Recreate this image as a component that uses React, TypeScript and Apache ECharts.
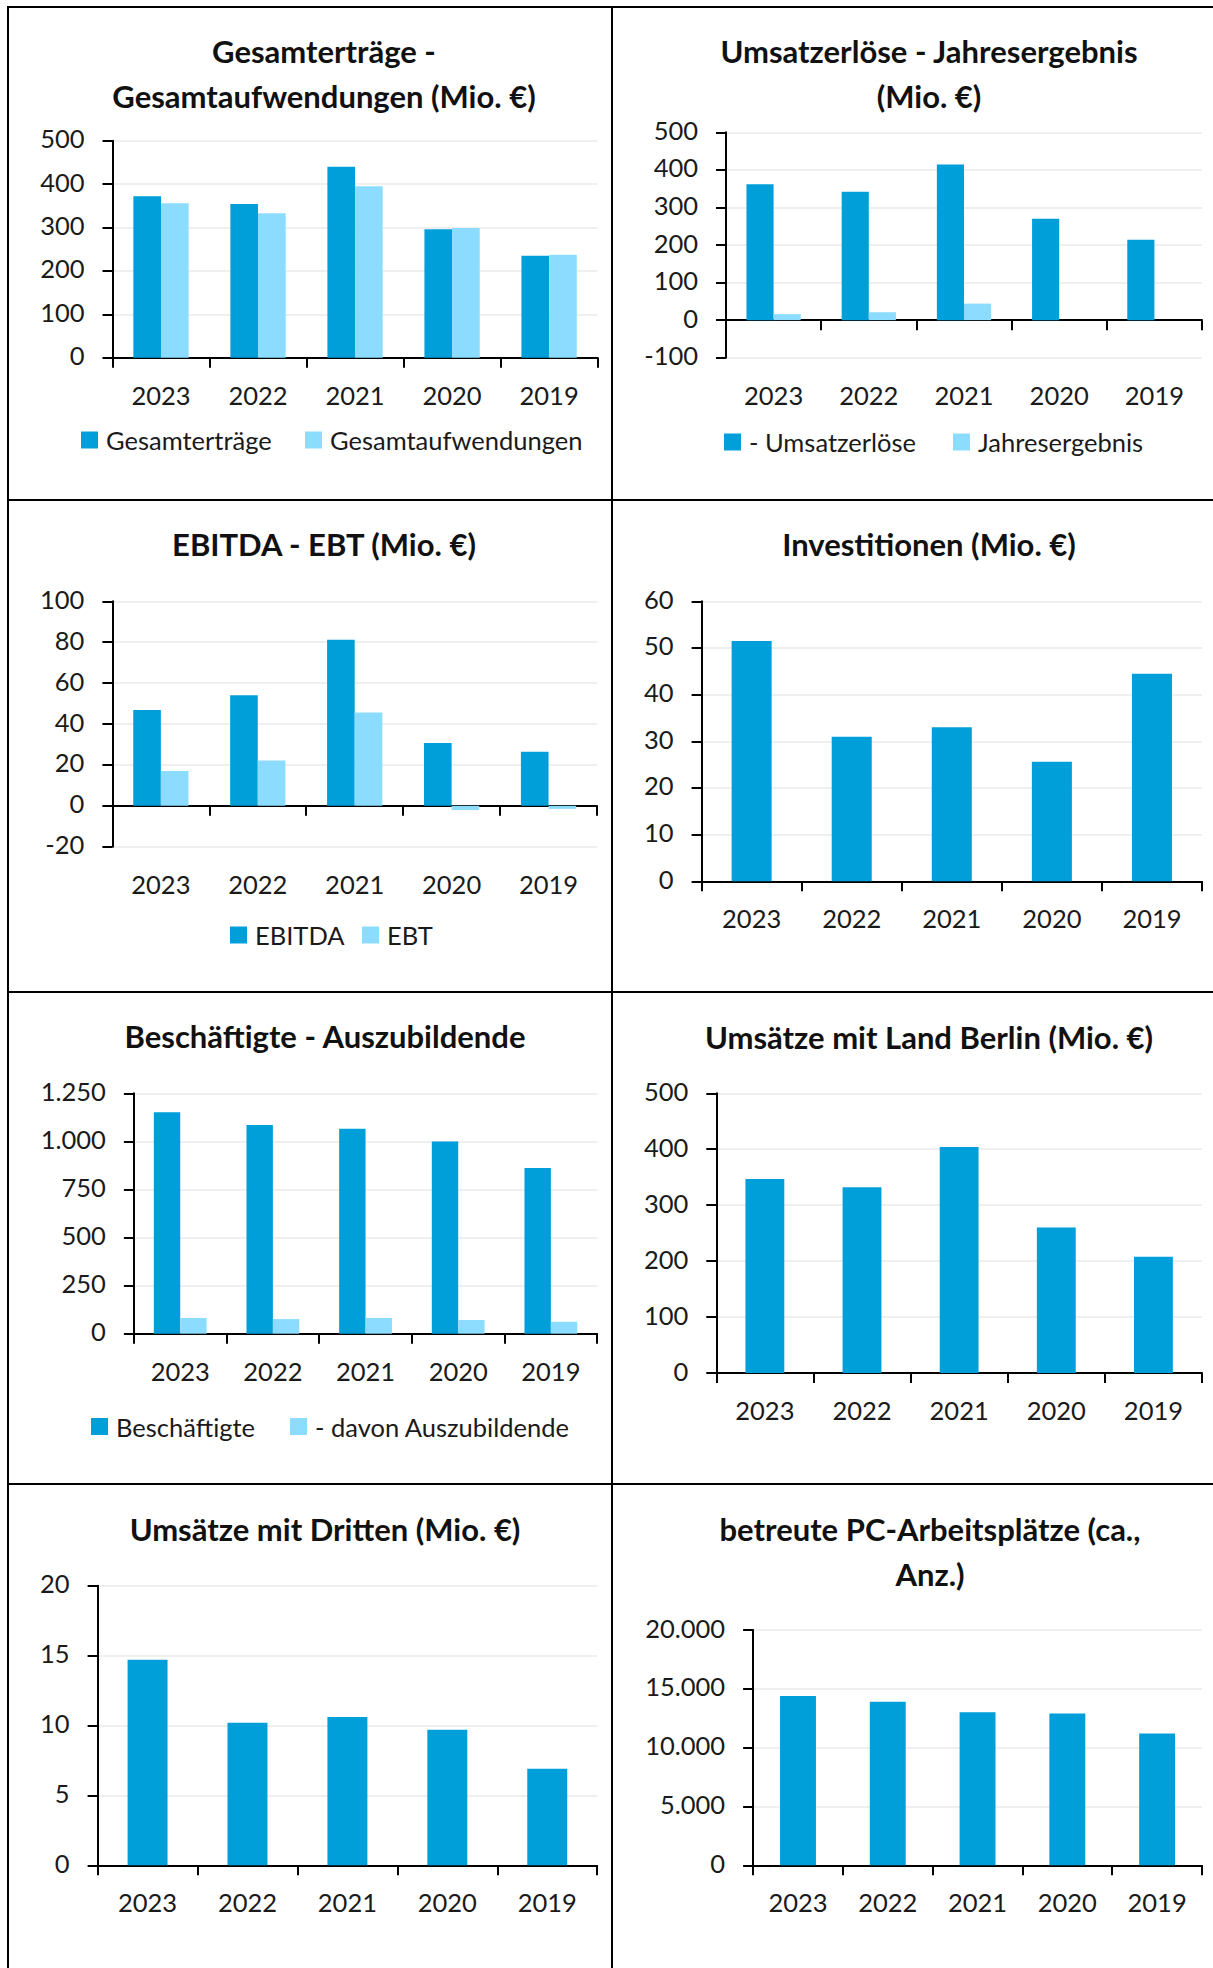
import React, { useEffect, useRef } from "react";
import * as echarts from "echarts";

// ---------- data ----------
const years = ["2023", "2022", "2021", "2020", "2019"];

const gesamtertraege = [372, 354, 440, 296, 235];
const gesamtaufwendungen = [356, 333, 395, 299, 237];

const umsatzerloese = [362, 342, 414, 270, 214];
const jahresergebnis = [16, 21, 44, 0, 0];

const ebitda = [46.8, 54.1, 81.2, 30.7, 26.4];
const ebt = [17, 22.2, 45.6, -2.1, -1.5];

const investitionen = [51.5, 31.0, 33.0, 25.6, 44.5];

const beschaeftigte = [1151, 1085, 1066, 1000, 862];
const auszubildende = [82, 76, 82, 71, 62];

const umsaetzeBerlin = [347, 332, 404, 260, 208];

const umsaetzeDritte = [14.7, 10.2, 10.6, 9.7, 6.9];

const pcArbeitsplaetze = [14400, 13900, 13000, 12900, 11200];

const titles = [
  ["Gesamterträge -", "Gesamtaufwendungen (Mio. €)"],
  ["Umsatzerlöse - Jahresergebnis", "(Mio. €)"],
  ["EBITDA - EBT (Mio. €)"],
  ["Investitionen (Mio. €)"],
  ["Beschäftigte - Auszubildende"],
  ["Umsätze mit Land Berlin (Mio. €)"],
  ["Umsätze mit Dritten (Mio. €)"],
  ["betreute PC-Arbeitsplätze (ca.,", "Anz.)"],
];

// ---------- styling ----------
const DARK = "#009fda";
const LIGHT = "#8bdcfe";
const FONT = "Lato, 'Open Sans', sans-serif";
const TXT = "#1a1a1a";
const LABEL_SIZE = 25.5;
const TITLE_SIZE = 31;

function fmtDE(v: number) {
  return String(v).replace(/\B(?=(\d{3})+(?!\d))/g, ".");
}

type S = { name: string; data: number[]; color: string };
type Panel = {
  left: number; right: number; top: number; bottom: number;
  min: number; max: number; interval: number;
  series: S[];
  legendX?: number[]; legendY?: number;
  titleX: number; titleY: number[];
};

const panels: Panel[] = [
  {
    left: 112.5, right: 597.6, top: 140.7, bottom: 357.7, min: 0, max: 500, interval: 100,
    series: [
      { name: "Gesamterträge", data: gesamtertraege, color: DARK },
      { name: "Gesamtaufwendungen", data: gesamtaufwendungen, color: LIGHT },
    ],
    legendX: [81, 305], legendY: 439, titleX: 324, titleY: [51, 96],
  },
  {
    left: 726, right: 1202, top: 132.3, bottom: 357.7, min: -100, max: 500, interval: 100,
    series: [
      { name: "- Umsatzerlöse", data: umsatzerloese, color: DARK },
      { name: "Jahresergebnis", data: jahresergebnis, color: LIGHT },
    ],
    legendX: [724, 953], legendY: 441, titleX: 929, titleY: [51, 96],
  },
  {
    left: 112.4, right: 597, top: 601.3, bottom: 846.7, min: -20, max: 100, interval: 20,
    series: [
      { name: "EBITDA", data: ebitda, color: DARK },
      { name: "EBT", data: ebt, color: LIGHT },
    ],
    legendX: [230, 362], legendY: 934, titleX: 324, titleY: [544],
  },
  {
    left: 701.6, right: 1202, top: 601.3, bottom: 881.3, min: 0, max: 60, interval: 10,
    series: [{ name: "Investitionen", data: investitionen, color: DARK }],
    titleX: 929, titleY: [544],
  },
  {
    left: 133.9, right: 597.2, top: 1093.3, bottom: 1333.7, min: 0, max: 1250, interval: 250,
    series: [
      { name: "Beschäftigte", data: beschaeftigte, color: DARK },
      { name: "- davon Auszubildende", data: auszubildende, color: LIGHT },
    ],
    legendX: [91, 290], legendY: 1425.5, titleX: 325, titleY: [1035.5],
  },
  {
    left: 716.3, right: 1202, top: 1093.3, bottom: 1373, min: 0, max: 500, interval: 100,
    series: [{ name: "Umsätze mit Land Berlin", data: umsaetzeBerlin, color: DARK }],
    titleX: 929, titleY: [1036.5],
  },
  {
    left: 97.6, right: 597.2, top: 1585.7, bottom: 1865.3, min: 0, max: 20, interval: 5,
    series: [{ name: "Umsätze mit Dritten", data: umsaetzeDritte, color: DARK }],
    titleX: 325, titleY: [1528.5],
  },
  {
    left: 753.1, right: 1202, top: 1630, bottom: 1865.3, min: 0, max: 20000, interval: 5000,
    series: [{ name: "betreute PC-Arbeitsplätze", data: pcArbeitsplaetze, color: DARK }],
    titleX: 930, titleY: [1528.5, 1573.5],
  },
];

function buildOption() {
  const grid: any[] = [];
  const xAxis: any[] = [];
  const yAxis: any[] = [];
  const series: any[] = [];
  const legend: any[] = [];
  const graphic: any[] = [];

  const axisLineStyle = { color: "#000", width: 2 };

  panels.forEach((p, i) => {
    grid.push({
      left: p.left, top: p.top, width: p.right - p.left, height: p.bottom - p.top,
      containLabel: false, outerBoundsMode: "none",
    });
    xAxis.push({
      type: "category", gridIndex: i, data: years, position: "bottom", boundaryGap: true,
      axisLine: { show: true, onZero: true, lineStyle: axisLineStyle },
      axisTick: { show: true, length: 10, interval: 0, lineStyle: axisLineStyle },
      axisLabel: { show: false }, splitLine: { show: false },
    });
    xAxis.push({
      type: "category", gridIndex: i, data: years, position: "bottom", boundaryGap: true,
      axisLine: { show: false, onZero: false }, axisTick: { show: false },
      axisLabel: { show: true, interval: 0, margin: 24, fontSize: LABEL_SIZE, fontFamily: FONT, color: TXT },
      splitLine: { show: false },
    });
    yAxis.push({
      type: "value", gridIndex: i, min: p.min, max: p.max, interval: p.interval,
      axisLine: { show: true, onZero: false, lineStyle: axisLineStyle },
      axisTick: { show: true, length: 10, lineStyle: axisLineStyle },
      axisLabel: {
        margin: 28, color: TXT,
        formatter: (v: number) => `{a|${fmtDE(v)}}`,
        rich: {
          a: { fontSize: LABEL_SIZE, fontFamily: FONT, color: TXT, padding: [0, 0, 5, 0] },
        },
      },
      splitLine: { show: true, lineStyle: { color: "#efefef", width: 2 } },
    });
    const pair = p.series.length > 1;
    p.series.forEach((s) => {
      series.push({
        type: "bar", name: s.name, data: s.data, xAxisIndex: 2 * i, yAxisIndex: i,
        itemStyle: { color: s.color },
        ...(pair ? { barGap: "0%", barCategoryGap: "43%" } : { barWidth: "40%" }),
      });
    });
    if (p.legendX && p.legendY !== undefined) {
      p.series.forEach((s, k) => {
        legend.push({
          data: [s.name], left: p.legendX![k], top: p.legendY! - 12, padding: 0,
          orient: "horizontal", icon: "rect", itemWidth: 17, itemHeight: 17, itemGap: 0,
          selectedMode: false,
          textStyle: { fontSize: LABEL_SIZE, fontFamily: FONT, color: TXT, padding: [0, 0, 0, 3] },
        });
      });
    }
    titles[i].forEach((t, k) => {
      graphic.push({
        type: "text", x: p.titleX, y: p.titleY[k],
        style: {
          text: t, fill: "#111", fontSize: TITLE_SIZE, fontWeight: "bold", fontFamily: FONT,
          align: "center", verticalAlign: "middle",
        },
      });
    });
  });

  // cell borders
  const border = (x1: number, y1: number, x2: number, y2: number) => ({
    type: "line", shape: { x1, y1, x2, y2 }, style: { stroke: "#000", lineWidth: 2 }, z: 100,
  });
  graphic.push(border(7, 7, 1213, 7));
  graphic.push(border(8, 6, 8, 1968));
  graphic.push(border(612, 6, 612, 1968));
  graphic.push(border(7, 500, 1213, 500));
  graphic.push(border(7, 992, 1213, 992));
  graphic.push(border(7, 1484, 1213, 1484));

  return {
    animation: false,
    backgroundColor: "#fff",
    textStyle: { fontFamily: FONT },
    grid, xAxis, yAxis, series, legend, graphic,
  };
}

export default function App() {
  const ref = useRef<HTMLDivElement>(null);
  useEffect(() => {
    if (!ref.current) return;
    const chart = echarts.init(ref.current, undefined, { renderer: "svg" });
    chart.setOption(buildOption() as any);
    return () => chart.dispose();
  }, []);
  return (
    <div
      ref={ref}
      style={{ position: "absolute", left: 0, top: 0, width: 1213, height: 1968, background: "#fff" }}
    />
  );
}
